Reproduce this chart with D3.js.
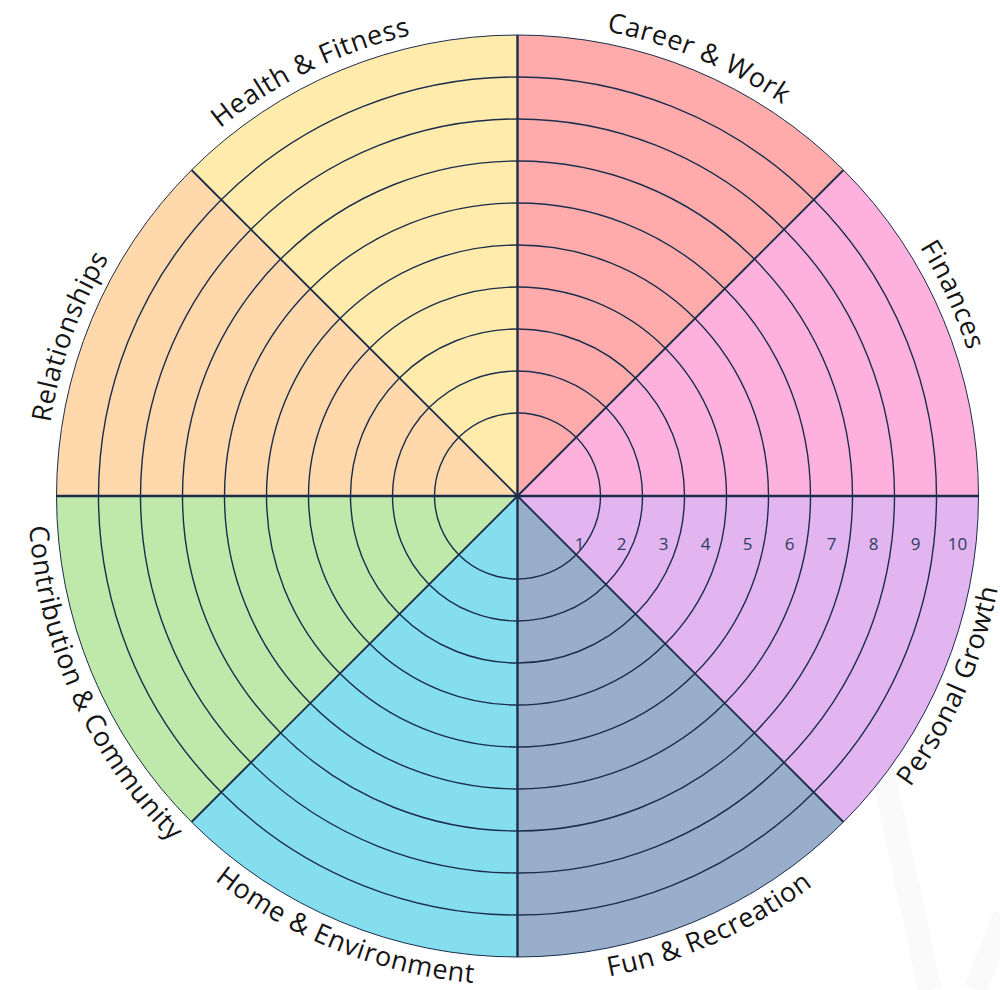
<!DOCTYPE html>
<html>
<head>
<meta charset="utf-8">
<script src="https://cdn.jsdelivr.net/npm/d3@7"></script>
<style>
  body { margin: 0; background: #fff; }
  svg { display: block; }
  .cat { font-family: "Open Sans", "Noto Sans", sans-serif; font-size: 27px; letter-spacing: 0.6px; fill: #151515; }
  .lvl { font-family: "Open Sans", "Noto Sans", sans-serif; font-size: 17px; fill: #2c3d5e; }
</style>
</head>
<body>
<svg width="1000" height="990"></svg>
<script>
// wheel segments, clockwise from 12 o'clock
var categories = ["Career & Work", "Finances", "Personal Growth", "Fun & Recreation",
                  "Home & Environment", "Contribution & Community", "Relationships", "Health & Fitness"];
var colors = ["#ffa8a8", "#ffaedd", "#e1b3f0", "#95abc8", "#81ddec", "#bde8a8", "#ffd7a8", "#ffeaa8"];
var levels = [1, 2, 3, 4, 5, 6, 7, 8, 9, 10];

var svg = d3.select("svg"),
    cx = 517.5, cy = 496,
    ink = "#1b2d4b";

var angle = d3.scaleLinear().domain([0, categories.length]).range([0, 2 * Math.PI]);
// outer edge of each level ring
var radius = d3.scaleLinear().domain([1, 10]).range([83, 461]);

// faint watermark strokes behind everything
var wm = svg.append("g").attr("fill", "none").attr("stroke", "#000").attr("stroke-opacity", 0.02)
  .attr("stroke-width", 24);
wm.append("line").attr("x1", 852).attr("y1", 630).attr("x2", 930).attr("y2", 990);
wm.append("line").attr("x1", 975).attr("y1", 990).attr("x2", 1005).attr("y2", 915);

var g = svg.append("g").attr("transform", "translate(" + cx + "," + cy + ")");

// colored wedges
var arc = d3.arc()
  .innerRadius(0)
  .outerRadius(radius(10))
  .startAngle(function(d, i) { return angle(i); })
  .endAngle(function(d, i) { return angle(i + 1); });

g.selectAll(".wedge")
  .data(categories)
  .enter().append("path")
    .attr("class", "wedge")
    .attr("d", arc)
    .attr("fill", function(d, i) { return colors[i]; })
    .attr("fill-opacity", 0.97);

// level rings
g.selectAll(".ring")
  .data(levels)
  .enter().append("circle")
    .attr("class", "ring")
    .attr("r", function(d) { return radius(d); })
    .attr("fill", "none")
    .attr("stroke", ink)
    .attr("stroke-width", function(d) { return d === 10 ? 1 : 1.4; });

// spokes
g.selectAll(".spoke")
  .data(categories)
  .enter().append("line")
    .attr("class", "spoke")
    .attr("x1", 0).attr("y1", 0)
    .attr("x2", function(d, i) { return radius(10) * Math.sin(angle(i)); })
    .attr("y2", function(d, i) { return -radius(10) * Math.cos(angle(i)); })
    .attr("stroke", ink)
    .attr("stroke-width", function(d, i) { return i % 2 === 0 ? 2.4 : 1.9; });

// level numbers in the Personal Growth slice
g.selectAll(".lvl")
  .data(levels)
  .enter().append("text")
    .attr("class", "lvl")
    .attr("x", function(d) { return radius(d) - 21; })
    .attr("y", 54)
    .attr("text-anchor", "middle")
    .text(function(d) { return d; });

// curved category labels: top half runs clockwise, bottom half counter-clockwise
function pt(t, r) { return [r * Math.sin(t), -r * Math.cos(t)]; }
// small rotation of each label off its slice centre, degrees
var nudge = [0, -2.3, 1.2, -1.5, -0.8, -1.8, -2.9, -3.5];

var defs = g.append("defs");
categories.forEach(function(name, i) {
  var s = nudge[i] * Math.PI / 180;
  var a0 = angle(i) + s, a1 = angle(i + 1) + s;
  var bottom = (i >= 2 && i <= 5);
  var r = bottom ? 489 : 473;
  var d;
  if (!bottom) {
    d = "M" + pt(a0, r) + " A" + r + "," + r + " 0 0 1 " + pt(a1, r);
  } else {
    d = "M" + pt(a1, r) + " A" + r + "," + r + " 0 0 0 " + pt(a0, r);
  }
  defs.append("path").attr("id", "lp" + i).attr("d", d);
});

g.selectAll(".cat")
  .data(categories)
  .enter().append("text")
    .attr("class", "cat")
  .append("textPath")
    .attr("href", function(d, i) { return "#lp" + i; })
    .attr("startOffset", "50%")
    .attr("text-anchor", "middle")
    .text(function(d) { return d; });
</script>
</body>
</html>
